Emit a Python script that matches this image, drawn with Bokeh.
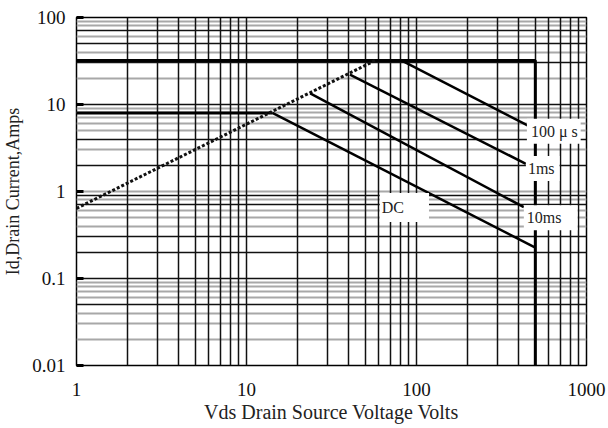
from bokeh.plotting import figure
from bokeh.models import Grid, FixedTicker, Label, CustomJSTickFormatter
from bokeh.embed import file_html
from bokeh.resources import INLINE

# Axis tick values
x_ticks = [1, 10, 100, 1000]
y_ticks = [0.01, 0.1, 1, 10, 100]

# Safe operating area boundaries: Vds (V) against Id (A)
pulse_limit_v = [1, 500, 500]
pulse_limit_i = [32, 32, 0.01]
cont_limit_v = [1, 14.2]
cont_limit_i = [8, 8]
rds_on_v = [1, 57]
rds_on_i = [0.64, 32]
us100_v = [82, 450]
us100_i = [32, 5.74]
ms1_v = [40.6, 440]
ms1_i = [22, 2.08]
ms10_v = [23.7, 428]
ms10_i = [13.4, 0.66]
dc_v = [14.2, 500]
dc_i = [8, 0.227]

curve_names = ["100 \u03bc s", "1ms", "10ms", "DC"]

SERIF = "Liberation Serif"

p = figure(width=608, height=428, x_axis_type="log", y_axis_type="log",
           x_range=(1, 1000), y_range=(0.01, 100),
           output_backend="svg", toolbar_location=None,
           min_border_left=73, min_border_right=22,
           min_border_top=17, min_border_bottom=63)
p.background_fill_color = "white"
p.border_fill_color = "white"
p.outline_line_color = "black"
p.outline_line_width = 1.5
p.grid.visible = False

# Log-paper grid: vertical rulings black, horizontal a mix of grey and black
decades = [1, 10, 100]
v_rules = [m * d for d in decades for m in range(2, 10)] + [10, 100]
h_grey = [90, 80, 60, 40, 20, 9, 8, 7, 6, 5, 3, 1, 0.8, 0.6, 0.5, 0.4,
          0.09, 0.08, 0.07, 0.06, 0.04, 0.03, 0.02, 0.01]
h_black = [70, 50, 30, 10, 4, 2, 0.9, 0.7, 0.3, 0.2, 0.1, 0.05]

p.add_layout(Grid(dimension=1, ticker=FixedTicker(ticks=h_grey),
                  grid_line_color="#a8a8a8", grid_line_width=2))
p.add_layout(Grid(dimension=0, ticker=FixedTicker(ticks=v_rules),
                  grid_line_color="#111111", grid_line_width=1.5))
p.add_layout(Grid(dimension=1, ticker=FixedTicker(ticks=h_black),
                  grid_line_color="#111111", grid_line_width=1.6))

# Boundaries
p.line(pulse_limit_v, pulse_limit_i, line_color="black", line_width=3)
p.line(cont_limit_v, cont_limit_i, line_color="black", line_width=3)
p.line(rds_on_v, rds_on_i, line_color="#111111", line_width=3, line_dash="3 2")
for xs, ys in [(us100_v, us100_i), (ms1_v, ms1_i), (ms10_v, ms10_i), (dc_v, dc_i)]:
    p.line(xs, ys, line_color="black", line_width=2.5)

# Curve captions on white patches
captions = [
    (curve_names[0], 446, 4.93, dict(left=4, right=3, top=4, bottom=4)),
    (curve_names[1], 440, 1.84, dict(left=2, right=5, top=4, bottom=4)),
    (curve_names[2], 428, 0.5, dict(left=3, right=16, top=4, bottom=4)),
    (curve_names[3], 60.8, 0.655, dict(left=2, right=25, top=6, bottom=6)),
]
for text, x, y, pad in captions:
    p.add_layout(Label(x=x, y=y, text=text, text_font=SERIF, text_font_size="16px",
                       text_color="#222222", text_baseline="middle", text_align="left",
                       background_fill_color="white", padding=pad))

# Axes
p.xaxis.ticker = FixedTicker(ticks=x_ticks)
p.yaxis.ticker = FixedTicker(ticks=y_ticks)
p.xaxis.formatter = CustomJSTickFormatter(code="return String(tick);")
p.yaxis.formatter = CustomJSTickFormatter(code="return String(tick);")
for ax in (p.xaxis, p.yaxis):
    ax.axis_line_color = None
    ax.minor_tick_line_color = None
    ax.major_label_text_font = SERIF
    ax.major_label_text_font_size = "19px"
    ax.major_label_text_color = "#111111"
    ax.axis_label_text_font = SERIF
    ax.axis_label_text_font_size = "18px"
    ax.axis_label_text_font_style = "normal"
    ax.axis_label_text_color = "#222222"

p.xaxis.major_tick_line_color = None
p.xaxis.major_tick_out = 0
p.xaxis.major_tick_in = 0
p.xaxis.major_label_standoff = 17
p.xaxis.axis_label_standoff = 2
p.xaxis.axis_label_text_font_size = "20px"
p.xaxis.axis_label = "Vds Drain Source Voltage Volts"

p.yaxis.major_tick_line_color = "black"
p.yaxis.major_tick_line_width = 3
p.yaxis.major_tick_in = 7
p.yaxis.major_tick_out = 0
p.yaxis.major_label_standoff = 11
p.yaxis.axis_label_standoff = 6
p.yaxis.axis_label = "Id,Drain Current,Amps"

open("out.html", "w").write(file_html(p, INLINE))
